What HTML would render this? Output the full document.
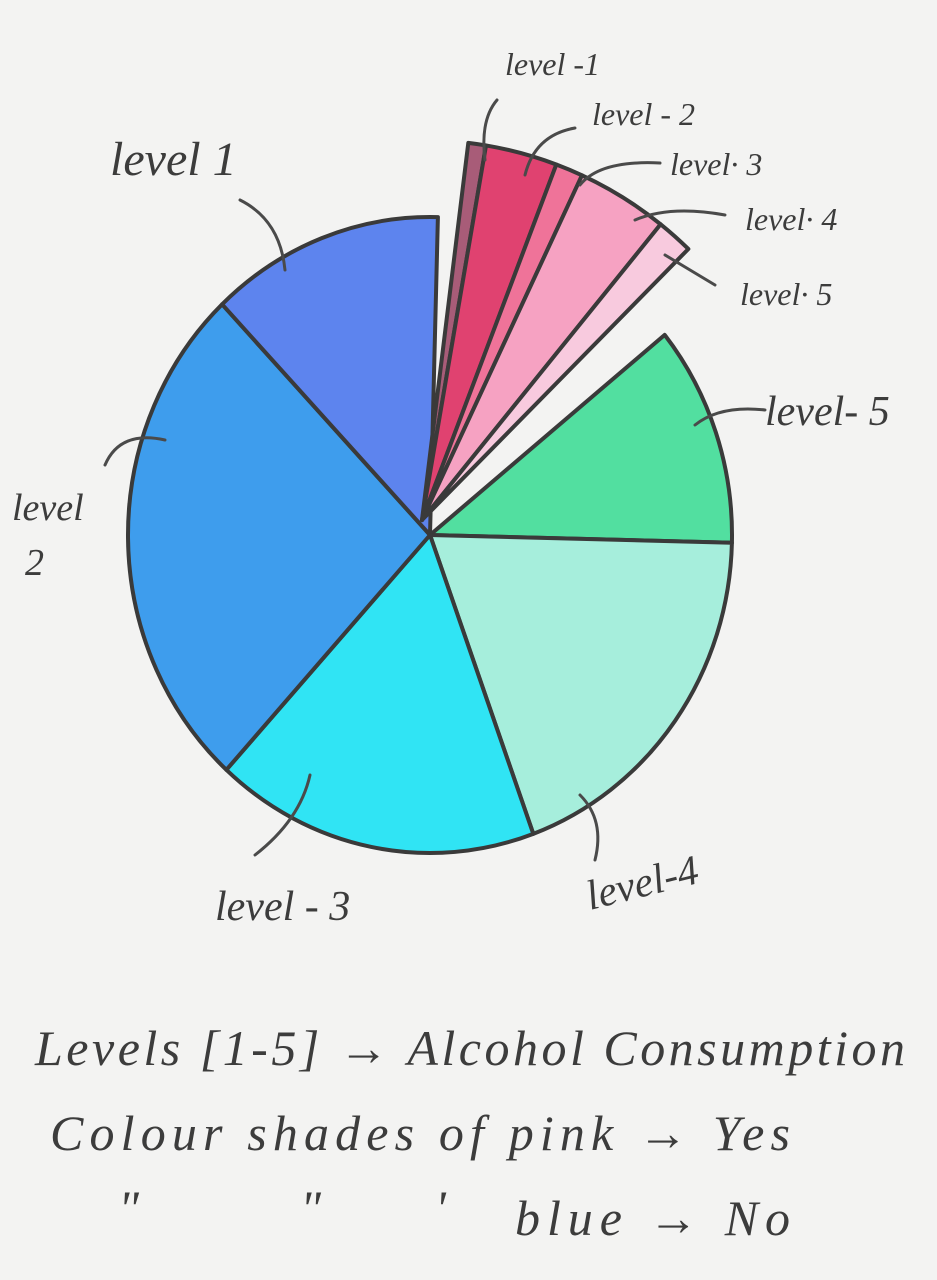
<!DOCTYPE html>
<html><head><meta charset="utf-8"><style>
html,body{margin:0;padding:0;background:#f3f3f2;}
svg{display:block;}
text{font-family:"Liberation Serif",serif;font-style:italic;fill:#3c3c3c;}
</style></head><body>
<svg id="chart" width="937" height="1280" viewBox="0 0 937 1280">
<rect width="937" height="1280" fill="#f3f3f2"/>
<g id="slices"></g>
<g id="labels" fill="none" stroke="#4a4a4a" stroke-width="3" stroke-linecap="round">
<path d="M240 200 Q280 220 285 270"/>
<path d="M165 440 Q120 430 105 465"/>
<path d="M310 775 Q300 820 255 855"/>
<path d="M580 795 Q605 820 595 860"/>
<path d="M695 425 Q720 405 765 410"/>
<path d="M485 160 Q480 120 497 100"/>
<path d="M525 175 Q535 135 575 128"/>
<path d="M580 185 Q600 160 660 163"/>
<path d="M635 220 Q670 205 725 215"/>
<path d="M665 255 Q690 270 715 285"/>
</g>
<text x="110" y="175" font-size="48">level 1</text>
<text x="12" y="520" font-size="38">level</text>
<text x="25" y="575" font-size="38">2</text>
<text x="215" y="920" font-size="42">level - 3</text>
<text x="590" y="910" font-size="42" transform="rotate(-14 590 910)">level-4</text>
<text x="765" y="425" font-size="42">level- 5</text>
<text x="505" y="75" font-size="32">level -1</text>
<text x="592" y="125" font-size="32">level - 2</text>
<text x="670" y="175" font-size="32">level· 3</text>
<text x="745" y="230" font-size="32">level· 4</text>
<text x="740" y="305" font-size="32">level· 5</text>
<text x="35" y="1065" font-size="50" textLength="870">Levels [1-5] → Alcohol Consumption</text>
<text x="50" y="1150" font-size="50" textLength="740">Colour shades of pink → Yes</text>
<text x="118" y="1225" font-size="50">"</text>
<text x="300" y="1225" font-size="50">"</text>
<text x="435" y="1225" font-size="50">'</text>
<text x="515" y="1235" font-size="50" textLength="275">blue → No</text>
</svg>
<script>
const levels = ["level 1","level 2","level 3","level 4","level 5"];
const noDegrees = [45.0, 94.1, 62.4, 68.6, 40.4];
const yesDegrees = [2.7, 11.0, 4.2, 14.0, 5.6];
const noColors = ["#5d84ee","#3e9ded","#30e4f4","#a6eedc","#52dfa0"];
const yesColors = ["#a85c78","#e04270","#ef7399","#f6a2c2","#f8cade"];
const g = document.getElementById('slices');
function pt(cx,cy,rx,ry,a){const t=a*Math.PI/180;return [cx+rx*Math.sin(t),cy-ry*Math.cos(t)];}
function wedge(cx,cy,rx,ry,a0,a1,fill,name){
  const p0=pt(cx,cy,rx,ry,a0),p1=pt(cx,cy,rx,ry,a1);
  const large=(a1-a0)>180?1:0;
  const p=document.createElementNS('http://www.w3.org/2000/svg','path');
  p.setAttribute('d',`M${cx} ${cy} L${p0[0]} ${p0[1]} A${rx} ${ry} 0 ${large} 1 ${p1[0]} ${p1[1]} Z`);
  p.setAttribute('fill',fill);p.setAttribute('stroke','#3a3a3a');p.setAttribute('stroke-width','4');p.setAttribute('stroke-linejoin','round');
  
  
  g.appendChild(p);
}
let a = 51;
for (let i = 4; i >= 0; i--) {
  wedge(430,535,302,318,a,a+noDegrees[i],noColors[i],'slice-no-'+(i+1));
  a += noDegrees[i];
}
let b = 7;
for (let i = 0; i < 5; i++) {
  wedge(422,520,380,380,b,b+yesDegrees[i],yesColors[i],'slice-yes-'+(i+1));
  b += yesDegrees[i];
}
</script>
</body></html>
